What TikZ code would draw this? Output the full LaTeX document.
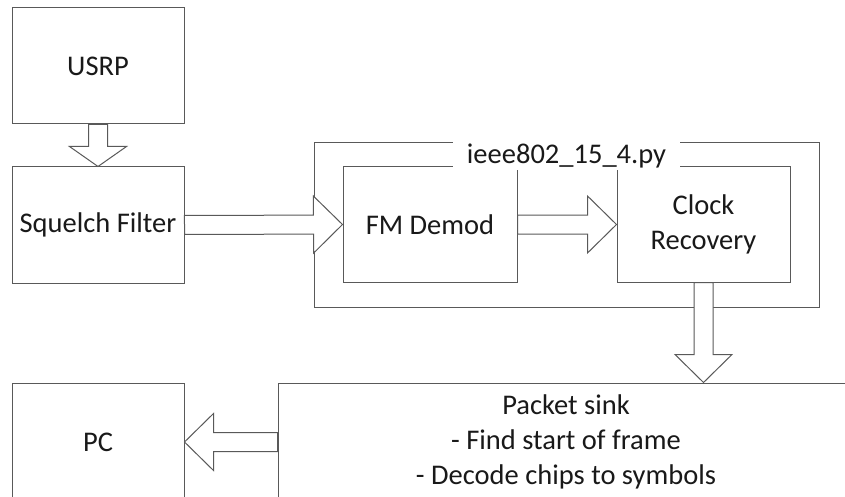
\documentclass[tikz,border=0pt]{standalone}
\usepackage{fontspec}
\setmainfont{Carlito}
\usetikzlibrary{calc}
\definecolor{edge}{RGB}{89,89,89}
\definecolor{ink}{RGB}{25,25,25}
\begin{document}
\begin{tikzpicture}[x=1pt, y=-1pt,
  every node/.style={font=\fontsize{28.5}{35}\selectfont, text=ink},
  blockbox/.style={draw=edge, line width=1pt, fill=white, inner sep=0pt,
    align=center, minimum height=116pt},
  % hollow block arrow from start to target; #1 = length of the head
  blockarrow/.style={draw=edge, fill=white, line width=1pt, line join=miter,
    to path={
      let \p1=(\tikztostart), \p2=(\tikztotarget),
          \n1={atan2(\y2-\y1,\x2-\x1)},
          \n2={veclen(\x2-\x1,\y2-\y1)} in
      ($(\p1)+({\n1+90}:9.5pt)$)
      -- ($(\p1)+({\n1}:{\n2-#1pt})+({\n1+90}:9.5pt)$)
      -- ($(\p1)+({\n1}:{\n2-#1pt})+({\n1+90}:28.5pt)$)
      -- (\p2)
      -- ($(\p1)+({\n1}:{\n2-#1pt})+({\n1-90}:28.5pt)$)
      -- ($(\p1)+({\n1}:{\n2-#1pt})+({\n1-90}:9.5pt)$)
      -- ($(\p1)+({\n1-90}:9.5pt)$)
      -- cycle}},
  blockarrow/.default=29
]
\useasboundingbox (0,0) rectangle (845,497);
\clip (0,0) rectangle (845,497);

% sources on the left
\node[blockbox, minimum width=172pt] (usrp) at (98,66) {USRP};
\node[blockbox, minimum width=172pt] (squelch) at (98,225) {Squelch Filter};

% the ieee802_15_4.py group and its two blocks
\node[draw=edge, line width=1pt, minimum width=505pt, minimum height=164pt,
  inner sep=0pt] (group) at (566.5,225) {};
\node[blockbox, minimum width=174pt, minimum height=115pt] (fm) at (430,224.5) {FM Demod};
\node[blockbox, minimum width=173pt, minimum height=115pt] (clock) at (703.5,224.5) {Clock\\Recovery};
\node[fill=white, inner sep=0pt, minimum width=227pt, text height=22pt,
  text depth=6pt, anchor=base] (tag) at (566.5,164) {ieee802\_15\_4.py};

% sinks at the bottom, running past the lower edge
\node[blockbox, minimum width=172pt, minimum height=118pt] (pc) at (98,442) {PC};
\node[blockbox, minimum width=576pt, minimum height=118pt] (sink) at (566,442)
  {Packet sink\\- Find start of frame\\- Decode chips to symbols};

% block arrows
\draw[blockarrow=20] (usrp.south) to (squelch.north);
\draw[blockarrow] (squelch.east) to (fm.west);
\draw[blockarrow] (fm.east) to (clock.west);
\draw[blockarrow=28] (clock.south) to (clock.south |- sink.north);
\draw[blockarrow] (sink.west |- pc.east) to (pc.east);
\end{tikzpicture}
\end{document}
